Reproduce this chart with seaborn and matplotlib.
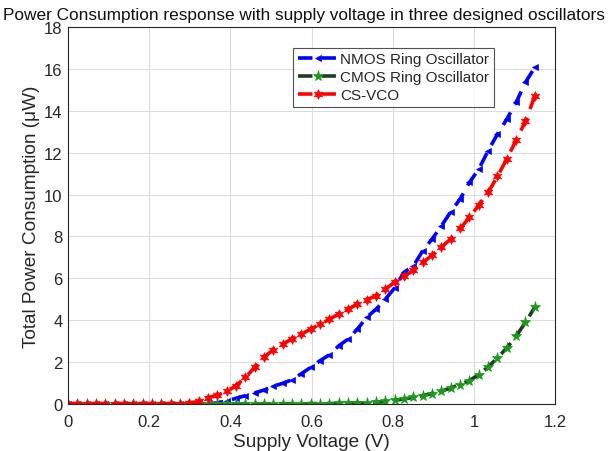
import numpy as np
import pandas as pd
import matplotlib
matplotlib.use("Agg")
import matplotlib.pyplot as plt
import seaborn as sns

voltage = [0.0, 0.023, 0.046, 0.069, 0.092, 0.115, 0.138, 0.161, 0.184, 0.207,
           0.23, 0.253, 0.276, 0.299, 0.322, 0.345, 0.368, 0.391, 0.414, 0.437,
           0.46, 0.483, 0.506, 0.529, 0.552, 0.575, 0.598, 0.621, 0.644, 0.667,
           0.69, 0.713, 0.736, 0.759, 0.782, 0.805, 0.828, 0.851, 0.874, 0.897,
           0.92, 0.943, 0.966, 0.989, 1.012, 1.035, 1.058, 1.081, 1.104, 1.127, 1.15]

nmos = [0.01, 0.01, 0.01, 0.01, 0.01, 0.01, 0.01, 0.01, 0.01, 0.01,
        0.01, 0.01, 0.01, 0.01, 0.01, 0.02, 0.05, 0.15, 0.27, 0.40,
        0.53, 0.67, 0.84, 0.99, 1.16, 1.45, 1.75, 2.07, 2.35, 2.78,
        3.10, 3.58, 4.14, 4.53, 5.01, 5.55, 6.29, 6.60, 7.32, 7.88,
        8.51, 9.18, 9.79, 10.58, 11.22, 12.09, 12.89, 13.60, 14.40, 15.36, 16.07]

cmos = [0.0, 0.0, 0.0, 0.0, 0.0, 0.0, 0.0, 0.0, 0.0, 0.0,
        0.0, 0.0, 0.0, 0.0, 0.0, 0.0, 0.0, 0.0, 0.0, 0.0,
        0.01, 0.01, 0.01, 0.01, 0.01, 0.01, 0.02, 0.02, 0.02, 0.03,
        0.04, 0.05, 0.06, 0.08, 0.12, 0.18, 0.24, 0.32, 0.40, 0.50,
        0.61, 0.77, 0.93, 1.12, 1.40, 1.77, 2.20, 2.68, 3.24, 3.90, 4.62]

csvco = [0.02, 0.02, 0.02, 0.02, 0.02, 0.02, 0.02, 0.02, 0.02, 0.02,
         0.02, 0.02, 0.02, 0.05, 0.12, 0.30, 0.42, 0.60, 0.88, 1.27,
         1.75, 2.23, 2.60, 2.86, 3.12, 3.34, 3.58, 3.80, 4.05, 4.30,
         4.52, 4.78, 4.98, 5.17, 5.49, 5.82, 6.09, 6.38, 6.76, 7.10,
         7.50, 7.88, 8.38, 8.91, 9.50, 10.10, 10.87, 11.70, 12.60, 13.50, 14.70]

series_names = ["NMOS Ring Oscillator", "CMOS Ring Oscillator", "CS-VCO"]
x_ticks = [0, 0.2, 0.4, 0.6, 0.8, 1, 1.2]
x_tick_labels = ["0", "0.2", "0.4", "0.6", "0.8", "1", "1.2"]
y_ticks = [0, 2, 4, 6, 8, 10, 12, 14, 16, 18]

df = pd.DataFrame({
    "Voltage": voltage * 3,
    "Power": nmos + cmos + csvco,
    "Series": [series_names[0]] * len(voltage) + [series_names[1]] * len(voltage)
              + [series_names[2]] * len(voltage),
})

sns.set_style("white")
plt.rcParams["font.family"] = ["Liberation Sans", "DejaVu Sans"]

fig = plt.figure(figsize=(6.08, 4.52), dpi=100)
ax = fig.add_axes([0.112, 0.104, 0.801, 0.834])

styles = {
    series_names[0]: dict(color="#0000ff", marker="<", mfc="#0000ff", mec="#0000ff", ms=5),
    series_names[1]: dict(color="#1e3d1e", marker="*", mfc="#1a9a1a", mec="#1a9a1a", ms=8),
    series_names[2]: dict(color="#ff0000", marker=(6, 1, 0), mfc="#ff0000", mec="#ff0000", ms=7),
}

for name in series_names:
    st = styles[name]
    sns.lineplot(data=df[df["Series"] == name], x="Voltage", y="Power", ax=ax,
                 color=st["color"], linestyle=(0, (4, 2.5)), linewidth=2.6,
                 marker=st["marker"], markersize=st["ms"],
                 markerfacecolor=st["mfc"], markeredgecolor=st["mec"],
                 markeredgewidth=0.5, label=name, estimator=None, sort=False)

ax.set_xlim(0, 1.2)
ax.set_ylim(0, 18)
ax.set_xticks(x_ticks)
ax.set_xticklabels(x_tick_labels)
ax.set_yticks(y_ticks)
ax.tick_params(axis="both", direction="in", labelsize=12, colors="#262626",
               length=4)
ax.tick_params(axis="x", pad=7)
ax.tick_params(axis="y", pad=4)
ax.grid(True, color="#dcdcdc", linewidth=0.8)
for sp in ax.spines.values():
    sp.set_color("#262626")
    sp.set_linewidth(0.8)

ax.set_xlabel("Supply Voltage (V)", fontsize=13.7, color="#262626", labelpad=3)
ax.set_ylabel("Total Power Consumption (\u03bcW)", fontsize=13.7, color="#262626", labelpad=3)
fig.text(0.5, 0.965, "Power Consumption response with supply voltage in three designed oscillators",
         ha="center", va="center", fontsize=12.4, color="#111111")

leg = ax.legend(loc="upper left", bbox_to_anchor=(0.462, 0.945), fontsize=11,
                frameon=True, fancybox=False, edgecolor="#262626",
                handlelength=2.6, borderpad=0.3, labelspacing=0.25,
                handletextpad=0.2, borderaxespad=0.0)
leg.get_frame().set_linewidth(0.8)

fig.savefig("out.png", dpi=100)
